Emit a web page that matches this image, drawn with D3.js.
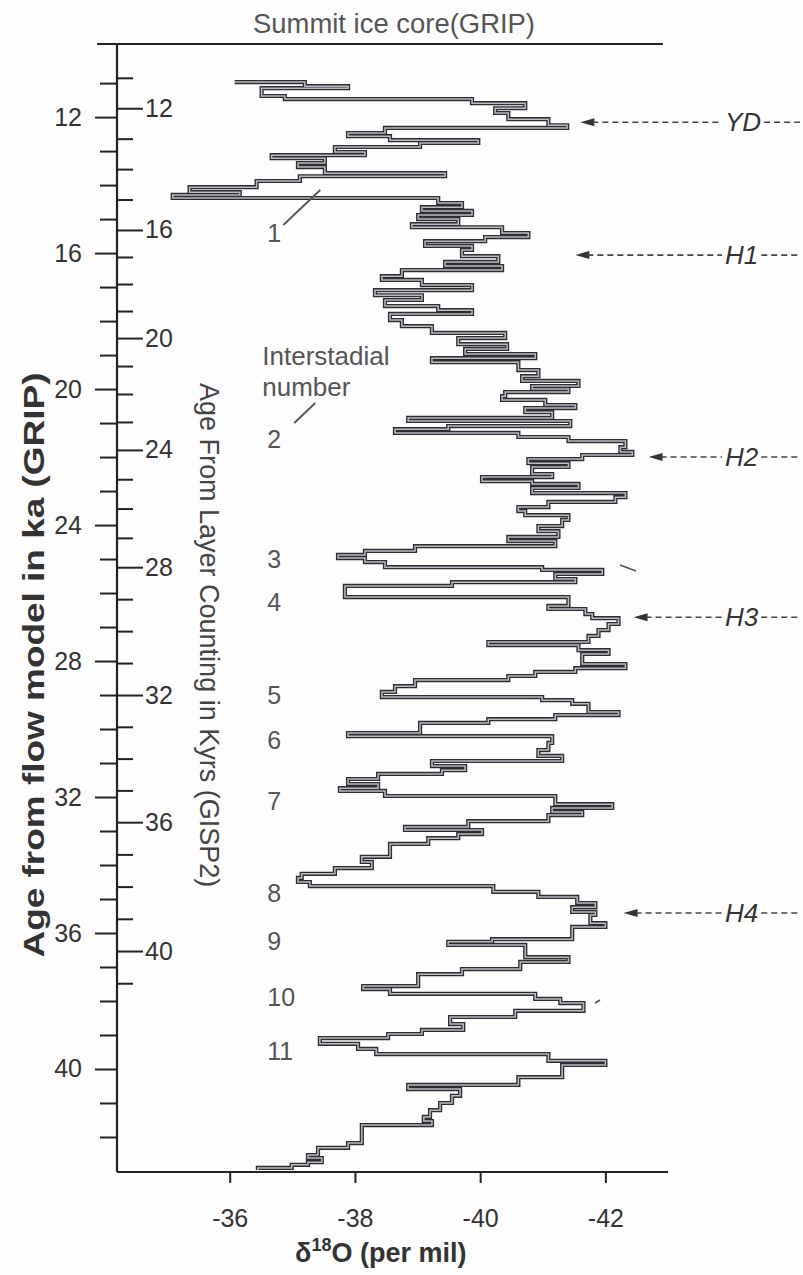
<!DOCTYPE html>
<html>
<head>
<meta charset="utf-8">
<script src="https://cdn.jsdelivr.net/npm/d3@7/dist/d3.min.js"></script>
<style>
  body { margin: 0; background: #fff; }
  text { font-family: "Liberation Sans", Arial, sans-serif; }
</style>
</head>
<body>
<div id="chart"></div>
<script>
// GRIP d18O record, sampled off the figure (age in ka from flow model, per mil)
var ageKa = [10.97,11.09,11.15,11.38,11.47,11.59,11.74,11.88,12.06,12.24,12.32,12.47,12.56,12.68,12.76,12.88,
  13.03,13.12,13.21,13.35,13.47,13.65,13.74,13.88,14.06,14.21,14.29,14.38,14.53,14.65,14.76,14.88,
  15.00,15.15,15.24,15.41,15.53,15.65,15.79,15.91,16.09,16.26,16.38,16.50,16.68,16.79,16.94,17.09,
  17.24,17.38,17.56,17.68,17.79,17.97,18.15,18.35,18.50,18.68,18.82,18.97,19.09,19.21,19.44,19.62,
  19.76,19.91,20.00,20.09,20.21,20.32,20.47,20.56,20.68,20.85,20.94,21.09,21.18,21.29,21.41,21.53,
  21.71,21.85,21.94,22.06,22.18,22.29,22.50,22.59,22.71,22.79,22.91,23.06,23.18,23.32,23.47,23.59,
  23.71,23.85,24.03,24.18,24.35,24.47,24.62,24.76,24.88,24.97,25.09,25.24,25.32,25.44,25.59,25.68,
  25.79,26.12,26.38,26.47,26.62,26.74,26.91,27.09,27.26,27.44,27.53,27.68,27.79,28.09,28.21,28.32,
  28.44,28.56,28.74,28.91,29.06,29.15,29.26,29.50,29.59,29.71,29.82,30.12,30.21,30.41,30.62,30.79,
  30.94,31.09,31.21,31.32,31.47,31.62,31.74,31.82,31.97,32.21,32.32,32.44,32.53,32.71,32.88,32.97,
  33.09,33.21,33.38,33.76,33.91,34.09,34.26,34.38,34.50,34.62,34.79,34.94,35.12,35.24,35.38,35.47,
  35.71,35.82,36.18,36.26,36.35,36.71,36.85,37.06,37.21,37.56,37.65,37.79,37.94,38.06,38.29,38.47,
  38.68,38.85,38.97,39.09,39.26,39.41,39.56,39.76,39.88,40.24,40.47,40.59,40.79,41.00,41.21,41.41,
  41.53,41.65,42.18,42.32,42.53,42.62,42.74,42.82,42.91,42.97];

var d18O = [-36.08,-37.20,-37.89,-36.51,-36.88,-39.87,-40.72,-40.24,-40.45,-41.09,-41.39,-38.48,-37.89,-38.56,-39.97,-39.04,
  -37.68,-38.16,-36.67,-37.52,-37.09,-37.52,-39.44,-37.12,-36.43,-35.36,-36.16,-35.09,-39.33,-39.71,-39.07,-39.87,
  -39.01,-39.65,-38.91,-40.35,-40.77,-40.08,-39.12,-39.87,-39.71,-40.29,-39.44,-40.35,-38.75,-38.43,-39.07,-39.87,
  -38.32,-39.07,-38.48,-39.33,-39.87,-38.56,-38.75,-39.23,-40.40,-39.65,-40.43,-39.76,-40.88,-39.23,-40.61,-40.93,
  -40.67,-41.57,-40.83,-41.41,-40.40,-40.35,-41.04,-41.52,-40.72,-41.15,-38.85,-41.44,-39.49,-38.64,-40.61,-41.41,
  -42.32,-42.24,-42.43,-41.63,-40.77,-41.41,-40.83,-41.15,-40.03,-40.83,-41.57,-40.83,-42.32,-42.16,-41.09,-40.61,
  -40.72,-41.41,-41.31,-40.93,-41.25,-40.45,-41.20,-38.96,-38.16,-37.73,-38.16,-38.48,-40.99,-41.95,-41.20,-41.52,
  -39.55,-37.84,-41.41,-41.09,-41.68,-41.79,-42.21,-42.05,-41.89,-41.73,-40.13,-41.57,-42.05,-41.63,-42.32,-41.52,
  -40.88,-40.45,-38.96,-38.64,-38.43,-40.99,-41.47,-41.73,-42.21,-41.20,-40.13,-39.04,-37.89,-41.15,-41.09,-40.93,
  -41.31,-39.23,-39.76,-39.39,-38.37,-37.89,-38.37,-37.76,-38.48,-41.20,-42.11,-41.15,-41.63,-41.09,-39.81,-38.80,
  -40.03,-39.65,-39.17,-38.56,-38.11,-38.27,-37.68,-37.15,-37.09,-37.28,-40.21,-40.93,-41.55,-41.84,-41.47,-41.84,
  -41.76,-42.00,-41.47,-40.19,-39.49,-40.72,-41.41,-40.64,-39.71,-39.01,-38.13,-38.56,-40.88,-41.28,-41.65,-40.56,
  -39.52,-39.73,-39.07,-38.53,-37.44,-38.05,-38.34,-41.09,-42.00,-41.31,-40.61,-38.85,-39.68,-39.55,-39.36,-39.20,
  -39.10,-39.23,-38.11,-37.89,-37.41,-37.25,-37.47,-37.25,-36.99,-36.45];

// GISP2 layer-counted ages and the GRIP flow-model age they line up with
var gisp2Age = [12, 16, 20, 24, 28, 32, 36, 40];
var gripEquiv = [11.74, 15.32, 18.50, 21.79, 25.24, 29.00, 32.74, 36.53];

var gripLabels = [12, 16, 20, 24, 28, 32, 36, 40];
var xTicks = [-36, -38, -40, -42];

// interstadial numbers and where they sit (age)
var interNum = ["1", "2", "3", "4", "5", "6", "7", "8", "9", "10", "11"];
var interAge = [15.41, 21.47, 25.00, 26.26, 29.00, 30.32, 32.12, 34.82, 36.24, 37.88, 39.47];

// Younger Dryas and Heinrich events
var events = ["YD", "H1", "H2", "H3", "H4"];
var eventAge = [12.15, 16.06, 22.00, 26.71, 35.41];
var eventFrom = [-41.60, -41.52, -42.69, -42.45, -42.29];

var W = 803, H = 1275;
var svg = d3.select("#chart").append("svg")
    .attr("width", W)
    .attr("height", H);

svg.append("rect").attr("width", W).attr("height", H).attr("fill", "#fdfdfd");

var y = d3.scaleLinear().domain([9.85, 43.03]).range([44, 1172]);
var x = d3.scaleLinear().domain([-34.2, -43.0]).range([117, 668]);
var yG2 = d3.scaleLinear().domain(gisp2Age).range(gripEquiv.map(function(a) { return y(a); }));

var axisX = x.range()[0];

// frame lines
svg.append("line").attr("x1", 97).attr("x2", 663).attr("y1", y.range()[0]).attr("y2", y.range()[0])
    .attr("stroke", "#222").attr("stroke-width", 2);
svg.append("line").attr("x1", axisX).attr("x2", x.range()[1]).attr("y1", y.range()[1]).attr("y2", y.range()[1])
    .attr("stroke", "#222").attr("stroke-width", 2);
svg.append("line").attr("x1", axisX).attr("x2", axisX).attr("y1", y.range()[0]).attr("y2", y.range()[1])
    .attr("stroke", "#222").attr("stroke-width", 2.2);

function styleAxis(g, size) {
    g.select(".domain").remove();
    g.selectAll(".tick line").attr("stroke", "#222").attr("stroke-width", 2);
    g.selectAll(".tick text").attr("fill", "#333").attr("font-size", size)
        .attr("font-family", "Liberation Sans, Arial, sans-serif");
}

// GRIP axis (left side of the spine)
var minorGrip = d3.range(11, 43).filter(function(d) { return gripLabels.indexOf(d) < 0; });
svg.append("g").attr("transform", "translate(" + axisX + ",0)")
    .call(d3.axisLeft(y).tickValues(minorGrip).tickSize(17).tickFormat(""))
    .call(styleAxis, 25);
svg.append("g").attr("transform", "translate(" + axisX + ",0)")
    .call(d3.axisLeft(y).tickValues(gripLabels).tickSize(22).tickPadding(13).tickFormat(function(d) { return d; }))
    .call(styleAxis, 25);

// GISP2 axis (right side of the spine)
var minorG2 = d3.range(11, 42).filter(function(d) { return gisp2Age.indexOf(d) < 0; });
svg.append("g").attr("transform", "translate(" + axisX + ",0)")
    .call(d3.axisRight(yG2).tickValues(minorG2).tickSize(16).tickFormat(""))
    .call(styleAxis, 25);
svg.append("g").attr("transform", "translate(" + axisX + ",0)")
    .call(d3.axisRight(yG2).tickValues(gisp2Age).tickSize(26).tickPadding(2).tickFormat(function(d) { return d; }))
    .call(styleAxis, 25);

// bottom axis
svg.append("g").attr("transform", "translate(0," + y.range()[1] + ")")
    .call(d3.axisBottom(x).tickValues(xTicks).tickSize(11).tickPadding(26).tickFormat(function(d) { return String(d); }))
    .call(styleAxis, 25);

// the record as a step trace
var pts = ageKa.map(function(a, i) { return [a, d18O[i]]; });
var line = d3.line()
    .x(function(d) { return x(d[1]); })
    .y(function(d) { return y(d[0]); })
    .curve(d3.curveStepAfter);

svg.append("path").attr("d", line(pts))
    .attr("fill", "none").attr("stroke", "#2e2e30").attr("stroke-width", 4.2);
svg.append("path").attr("d", line(pts))
    .attr("fill", "none").attr("stroke", "#bdb8c4").attr("stroke-width", 1.5);

// titles
svg.append("text").attr("x", 253).attr("y", 33)
    .attr("font-size", 27).attr("fill", "#555")
    .attr("textLength", 282).attr("lengthAdjust", "spacingAndGlyphs")
    .text("Summit ice core(GRIP)");

svg.append("text")
    .attr("transform", "translate(44," + 665 + ") rotate(-90)")
    .attr("text-anchor", "middle")
    .attr("font-size", 30).attr("font-weight", "bold").attr("fill", "#333")
    .attr("textLength", 585).attr("lengthAdjust", "spacingAndGlyphs")
    .text("Age from flow model in ka (GRIP)");

svg.append("text")
    .attr("transform", "translate(200,383) rotate(90)")
    .attr("font-size", 27).attr("fill", "#444")
    .text("Age From Layer Counting in Kyrs (GISP2)");

var xt = svg.append("text").attr("x", 295).attr("y", 1262)
    .attr("font-size", 27).attr("font-weight", "bold").attr("fill", "#333");
xt.append("tspan").text("δ");
xt.append("tspan").attr("font-size", 18).attr("dy", -11).text("18");
xt.append("tspan").attr("dy", 11).text("O (per mil)");

// interstadial labels
var labX = x(-36.6);
svg.append("g").selectAll("text")
    .data(interNum)
    .enter()
    .append("text")
        .attr("x", labX)
        .attr("y", function(d, i) { return y(interAge[i]) + 9; })
        .attr("font-size", 25).attr("fill", "#555")
        .text(function(d) { return d; });

svg.append("text").attr("x", labX - 5).attr("y", 365)
    .attr("font-size", 26).attr("fill", "#555").text("Interstadial");
svg.append("text").attr("x", labX - 5).attr("y", 396)
    .attr("font-size", 26).attr("fill", "#555").text("number");
svg.append("line").attr("x1", labX + 27).attr("y1", 423).attr("x2", labX + 48).attr("y2", 403)
    .attr("stroke", "#555").attr("stroke-width", 1.8);
var y1 = y(interAge[0]);
svg.append("line").attr("x1", labX + 16).attr("y1", y1 - 8).attr("x2", labX + 53).attr("y2", y1 - 43)
    .attr("stroke", "#555").attr("stroke-width", 1.8);

// event arrows
events.forEach(function(e, i) {
    var yy = y(eventAge[i]), x0 = x(eventFrom[i]);
    svg.append("path")
        .attr("d", "M" + x0 + "," + yy + "L" + (x0 + 14) + "," + (yy - 4) + "L" + (x0 + 14) + "," + (yy + 4) + "Z")
        .attr("fill", "#333");
    svg.append("line").attr("x1", x0 + 12).attr("x2", 722).attr("y1", yy).attr("y2", yy)
        .attr("stroke", "#444").attr("stroke-width", 1.6).attr("stroke-dasharray", "6,4");
    var t = svg.append("text").attr("x", 725).attr("y", yy + 9)
        .attr("font-size", 26).attr("font-style", "italic").attr("fill", "#333")
        .text(e);
    var tw = t.node().getComputedTextLength();
    svg.append("line").attr("x1", 725 + tw + 3).attr("x2", 800).attr("y1", yy).attr("y2", yy)
        .attr("stroke", "#444").attr("stroke-width", 1.6).attr("stroke-dasharray", "6,4");
});

// stray short strokes left on the original figure
svg.append("line").attr("x1", 620).attr("y1", 565).attr("x2", 636).attr("y2", 571)
    .attr("stroke", "#555").attr("stroke-width", 1.6);
svg.append("line").attr("x1", 595).attr("y1", 1003).attr("x2", 600).attr("y2", 1000)
    .attr("stroke", "#555").attr("stroke-width", 1.6);
</script>
</body>
</html>
